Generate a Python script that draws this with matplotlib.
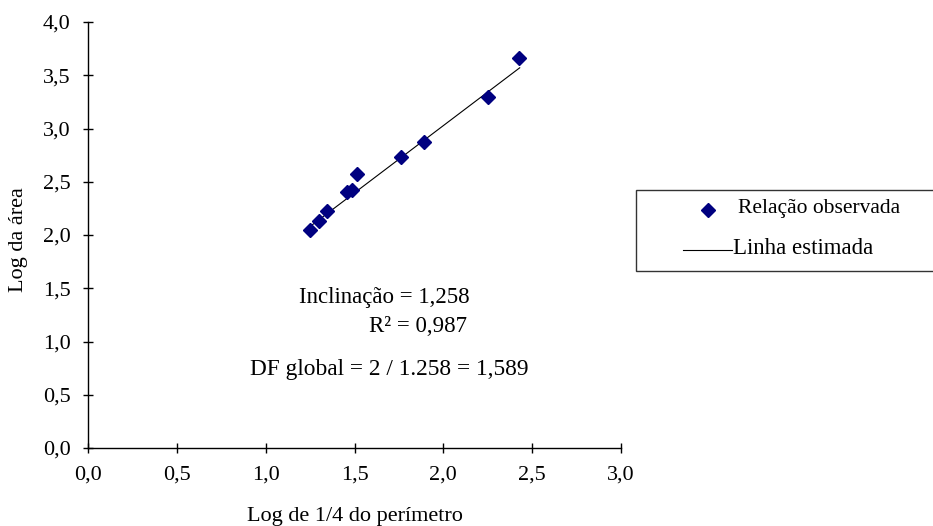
import matplotlib
matplotlib.use("Agg")
import matplotlib.pyplot as plt
from matplotlib.lines import Line2D
from matplotlib.patches import Rectangle

plt.rcParams['font.family'] = ['Liberation Serif', 'DejaVu Serif']

# Data
log_quarter_perimeter = [1.250, 1.302, 1.347, 1.456, 1.484, 1.516, 1.762, 1.893, 2.253, 2.428]
log_area = [2.047, 2.134, 2.225, 2.401, 2.423, 2.570, 2.730, 2.870, 3.299, 3.659]
line_x = [1.25, 2.43]
line_y = [2.08, 3.57]

x_ticks = [0.0, 0.5, 1.0, 1.5, 2.0, 2.5, 3.0]
y_ticks = [0.0, 0.5, 1.0, 1.5, 2.0, 2.5, 3.0, 3.5, 4.0]
x_ticklabels = ['0,0', '0,5', '1,0', '1,5', '2,0', '2,5', '3,0']
y_ticklabels = ['0,0', '0,5', '1,0', '1,5', '2,0', '2,5', '3,0', '3,5', '4,0']

legend_labels = ['Relação observada', 'Linha estimada']
annotation_lines = ['Inclinação = 1,258', 'R² = 0,987', 'DF global = 2 / 1.258 = 1,589']

W, H = 933, 526
fig = plt.figure(figsize=(W / 100, H / 100), dpi=100)
ax = fig.add_axes([88 / W, 1 - 448 / H, (621 - 88) / W, (448 - 22) / H])

navy = '#000080'
ax.plot(line_x, line_y, color='black', linewidth=0.8, zorder=2)
ax.plot(log_quarter_perimeter, log_area, linestyle='none', marker='D',
        markersize=7, color=navy, markeredgecolor=navy, zorder=3)

ax.set_xlim(0, 3)
ax.set_ylim(0, 4)
ax.set_xticks(x_ticks)
ax.set_xticklabels(x_ticklabels)
ax.set_yticks(y_ticks)
ax.set_yticklabels(y_ticklabels)
for s in ['top', 'right']:
    ax.spines[s].set_visible(False)
for s in ['left', 'bottom']:
    ax.spines[s].set_linewidth(1.0)
ax.tick_params(axis='both', direction='inout', length=7, width=1.0,
               labelsize=16)
ax.tick_params(axis='y', pad=9)
ax.tick_params(axis='x', pad=9)

ax.set_xlabel('Log de 1/4 do perímetro', fontsize=16)
ax.xaxis.set_label_coords(0.5, -0.138)
ax.set_ylabel('Log da área', fontsize=16)
ax.yaxis.set_label_coords(-0.112, 0.49)

# Annotation text (figure pixel positions)
def fx(px):
    return px / W

def fy(py):
    return 1 - py / H

fig.text(fx(470), fy(298), annotation_lines[0], ha='right', va='center', fontsize=16.5)
fig.text(fx(467), fy(326), annotation_lines[1], ha='right', va='center', fontsize=16.5)
fig.text(fx(389), fy(370), annotation_lines[2], ha='center', va='center', fontsize=16.8)

# Legend box (extends beyond the right edge like the reference)
rect = Rectangle((fx(636), fy(271)), fx(960) - fx(636), fy(190) - fy(271),
                 transform=fig.transFigure, facecolor='white', edgecolor='#333333',
                 linewidth=1.0, clip_on=False)
fig.add_artist(rect)
fig.add_artist(Line2D([fx(708)], [fy(210)], transform=fig.transFigure, marker='D',
                      markersize=7, color=navy, linestyle='none'))
fig.text(fx(738), fy(209), legend_labels[0], ha='left', va='center', fontsize=15.5)
fig.add_artist(Line2D([fx(683), fx(732)], [fy(250), fy(250)], transform=fig.transFigure,
                      color='black', linewidth=0.8))
fig.text(fx(733), fy(248), legend_labels[1], ha='left', va='center', fontsize=16.5)

fig.savefig('out.png', dpi=100)
